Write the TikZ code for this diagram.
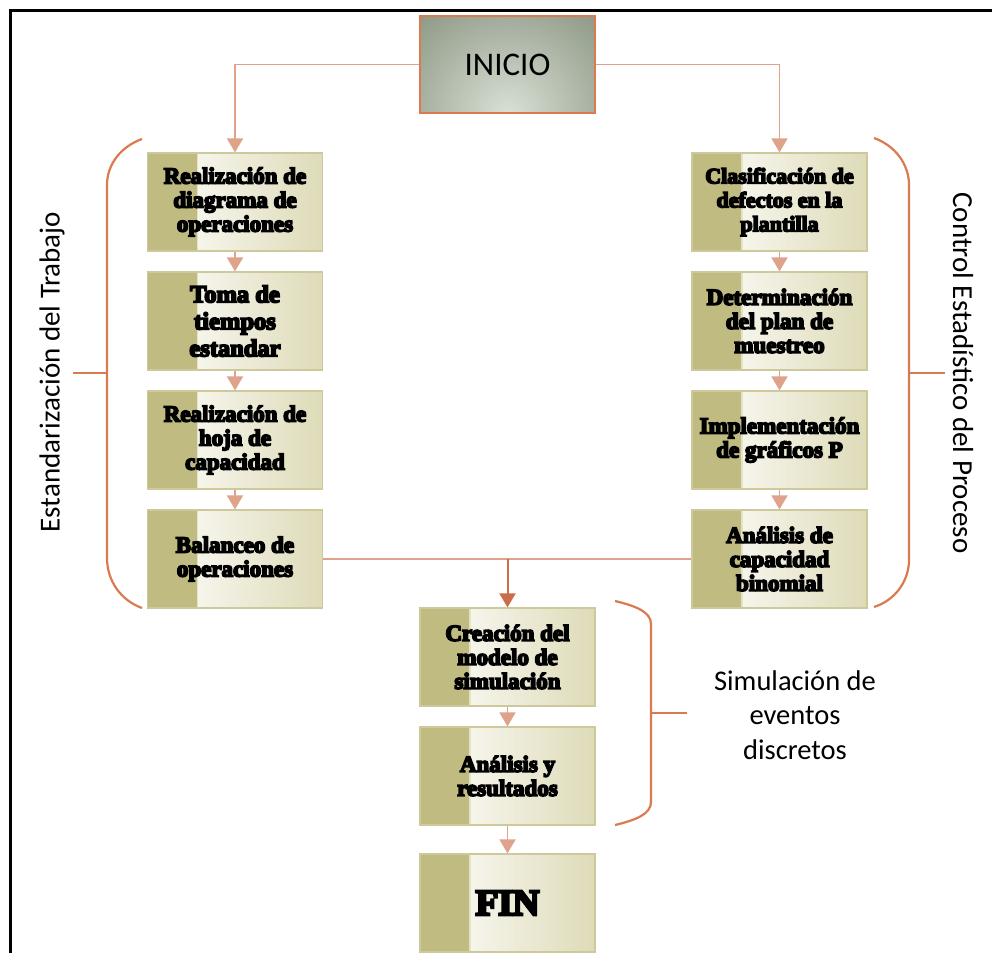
\documentclass[tikz,border=0pt]{standalone}
\usepackage{fontspec}
\setmainfont{Carlito}
\newfontfamily\boxfont{Liberation Serif Bold}[FakeBold=7]
\usetikzlibrary{arrows.meta}

\definecolor{frameblack}{HTML}{000000}
\definecolor{bracecol}{HTML}{D97A50}
\definecolor{conncol}{HTML}{DFA28A}
\definecolor{darkconn}{HTML}{CB6C4B}
\definecolor{stripcol}{HTML}{C0BB80}
\definecolor{boxend}{HTML}{DEDBB8}
\definecolor{boxedge}{HTML}{CDC99C}
\definecolor{inidark}{HTML}{5A664F}
\definecolor{inilight}{HTML}{D8E0D4}
\definecolor{iniedge}{HTML}{DB7A4F}

\tikzset{
  stepbox/.style={draw=boxedge, line width=1.2pt, minimum width=175pt,
    minimum height=98pt, inner sep=0pt, align=center, text=black,
    font=\boxfont\fontsize{23}{24}\selectfont,
    path picture={
      \shade[left color=white, right color=boxend]
        ([xshift=49pt]path picture bounding box.south west)
        rectangle (path picture bounding box.north east);
      \fill[stripcol] (path picture bounding box.south west)
        rectangle ([xshift=49pt]path picture bounding box.north west);
      \draw[boxend!80!white, line width=1.5pt]
        ([xshift=50pt]path picture bounding box.south west)
        -- ([xshift=50pt]path picture bounding box.north west);
    }},
  startbox/.style={draw=iniedge, line width=2pt, minimum width=175pt,
    minimum height=97pt, inner sep=0pt,
    font=\fontsize{33}{36}\selectfont,
    path picture={
      \shade[inner color=inilight, outer color=inidark]
        (path picture bounding box.south) circle (225pt);
    }},
  conn/.style={draw=conncol, line width=1.8pt,
    -{Triangle[width=16pt,length=14pt]}},
  link/.style={draw=conncol, line width=1.8pt},
  mainconn/.style={draw=darkconn, line width=2pt,
    -{Triangle[width=16pt,length=14pt]}},
  brace/.style={draw=bracecol, line width=2.2pt},
  grouplabel/.style={font=\fontsize{29}{35}\selectfont, align=center, inner sep=0pt},
}

\begin{document}
\begin{tikzpicture}[x=1pt,y=-1pt]
\useasboundingbox (0,0) rectangle (992,952);

% outer frame (top and left edges)
\draw[frameblack, line width=3pt] (10.7,960) -- (10.7,10.7) -- (1000,10.7);

% start node
\node[startbox] (inicio) at (507.5,64.5) {INICIO};

% work standardisation column
\node[stepbox] (l1) at (235,202) {Realización de\\diagrama de\\operaciones};
\node[stepbox, font=\boxfont\fontsize{24.5}{27}\selectfont] (l2) at (235,321) {Toma de\\tiempos\\estandar};
\node[stepbox] (l3) at (235,440) {Realización de\\hoja de\\capacidad};
\node[stepbox] (l4) at (235,559) {Balanceo de\\operaciones};

% statistical process control column
\node[stepbox, font=\boxfont\fontsize{22}{24}\selectfont] (r1) at (779.5,202) {Clasificación de\\defectos en la\\plantilla};
\node[stepbox] (r2) at (779.5,321) {Determinación\\del plan de\\muestreo};
\node[stepbox] (r3) at (779.5,440) {Implementación\\de gráficos P};
\node[stepbox] (r4) at (779.5,559) {Análisis de\\capacidad\\binomial};

% simulation column
\node[stepbox] (c1) at (507.5,657) {Creación del\\modelo de\\simulación};
\node[stepbox] (c2) at (507.5,776) {Análisis y\\resultados};
\node[stepbox, font=\boxfont\fontsize{37}{40}\selectfont] (fin) at (507.5,903) {FIN};

% connectors
\draw[conn] (inicio.west) -| (l1.north);
\draw[conn] (inicio.east) -| (r1.north);
\draw[conn] (l1) -- (l2);
\draw[conn] (l2) -- (l3);
\draw[conn] (l3) -- (l4);
\draw[conn] (r1) -- (r2);
\draw[conn] (r2) -- (r3);
\draw[conn] (r3) -- (r4);
\draw[link] (l4.east) -- (r4.west);
\coordinate (join) at (c1.north |- l4.east);
\draw[mainconn] (join) -- (c1.north);
\draw[conn] (c1) -- (c2);
\draw[conn] (c2) -- (fin);

% group braces
\draw[brace] (142,139) .. controls (120,147) and (107,165) .. (107,185)
  -- (107,558) .. controls (107,580) and (120,600) .. (142,608);
\coordinate (lt) at (107,373);
\coordinate (ltend) at (73,373);
\draw[brace] (lt) -- (ltend);

\draw[brace] (874,138) .. controls (896,146) and (909,165) .. (909,185)
  -- (909,560) .. controls (909,580) and (896,600) .. (874,607);
\coordinate (rt) at (909,373);
\coordinate (rtend) at (945,373);
\draw[brace] (rt) -- (rtend);

\draw[brace] (615,601) .. controls (636,606) and (651,612) .. (651,624)
  -- (651,802) .. controls (651,814) and (636,820) .. (615,825);
\coordinate (st) at (651,713);
\coordinate (stend) at (687,713);
\draw[brace] (st) -- (stend);

% group labels
\node[grouplabel, rotate=90] (glab) at (52,372) {Estandarización del Trabajo};
\node[grouplabel, rotate=-90] (clab) at (963,373) {Control Estadístico del Proceso};
\node[grouplabel, font=\fontsize{28.5}{34.5}\selectfont] (slab) at (795,715) {Simulación de\\eventos\\discretos};
\end{tikzpicture}
\end{document}
